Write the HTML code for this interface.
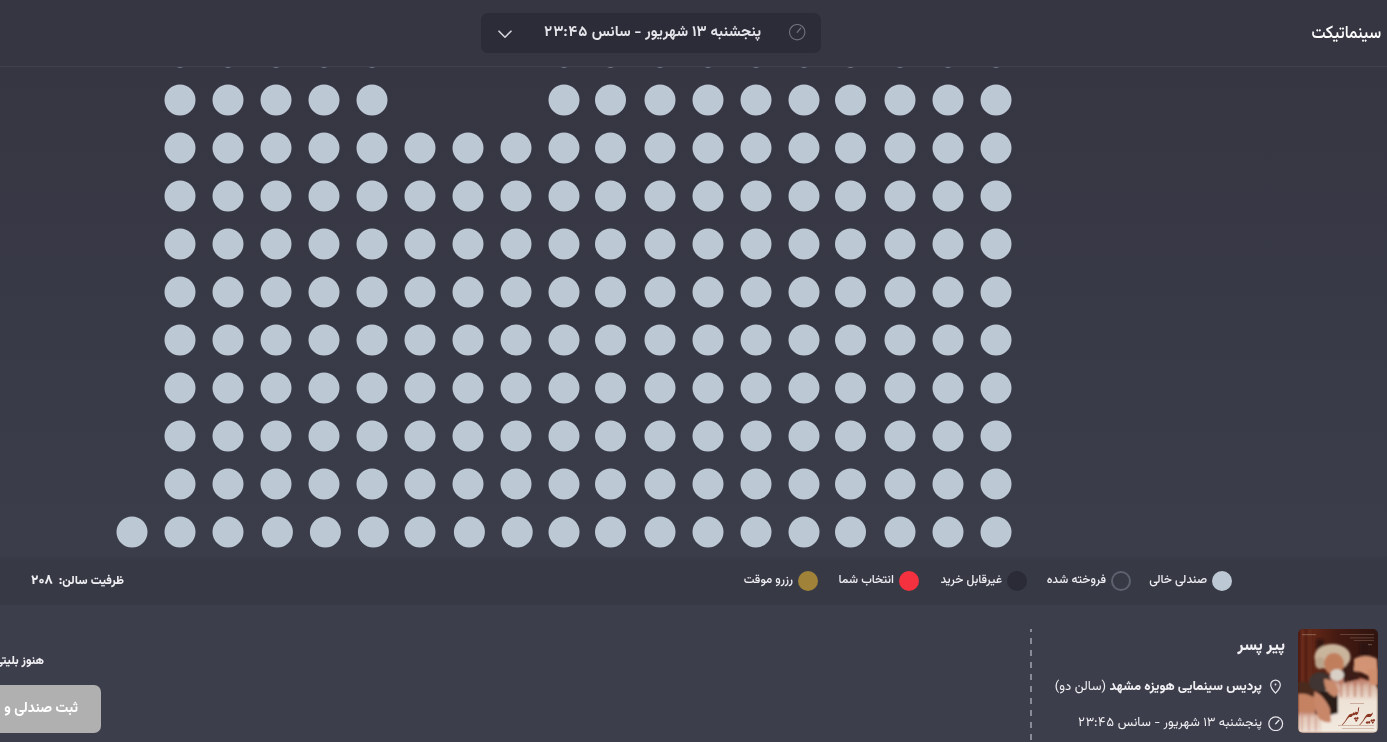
<!DOCTYPE html>
<html lang="fa" dir="rtl">
<head>
<meta charset="utf-8">
<title>سینماتیکت - انتخاب صندلی</title>
<style>
*{box-sizing:border-box;margin:0;padding:0}
html,body{width:1387px;height:742px;overflow:hidden;background:#353642}
body{position:relative;font-family:"Vazirmatn","DejaVu Sans","Liberation Sans",sans-serif;color:#f0f0f4}
.header{position:absolute;left:0;top:0;width:1387px;height:67px;background:#353642;border-bottom:1px solid #40414e;z-index:3}
.logo{position:absolute;right:6px;top:18.5px;font-size:18px;font-weight:500;transform:scaleX(0.87);transform-origin:right center;color:#fff;line-height:30px;letter-spacing:0}
.dd{position:absolute;left:481px;top:13.0px;width:340px;height:40px;background:#2c2c38;border-radius:7px}
.dd .t{position:absolute;right:60px;top:9px;font-size:14.9px;font-weight:700;line-height:22px;color:#e4e4ea;white-space:nowrap}
.dd .clk{position:absolute;right:15px;top:11px;width:18px;height:18px}
.dd .chev{position:absolute;left:17px;top:16px;width:14px;height:9px;transform:translateY(0.7px)}
.seats{position:absolute;left:0;top:67px;width:1387px;height:489px;overflow:hidden;background:linear-gradient(#353642,#3b3d4a)}
.seats i{position:absolute;left:0;top:0;width:31px;height:31px;border-radius:50%;background:#bdc8d5;display:block}
.legend{position:absolute;left:0;top:556px;width:1387px;height:49px;background:linear-gradient(#3a3c49 0,#373945 6px)}
.lg{position:absolute;top:0;height:49px;display:flex;align-items:center;font-size:12px;font-weight:500;line-height:20px;color:#eeeef3;white-space:nowrap}
.lg b{display:block;width:20px;height:20px;border-radius:50%;margin-left:5px}
.cap{position:absolute;left:31px;top:15px;font-size:12px;font-weight:800;line-height:20px;white-space:nowrap;direction:rtl}
.bottom{position:absolute;left:0;top:605px;width:1387px;height:137px;background:#3d3e4b}
.poster{position:absolute;left:1298px;top:24.0px;width:80px;height:104px;border-radius:5px;overflow:hidden}
.title{position:absolute;right:102px;top:29px;font-size:16px;font-weight:800;line-height:26px;white-space:nowrap}
.loc{position:absolute;right:125px;top:71px;font-size:13px;line-height:22px;white-space:nowrap}
.loc b{font-weight:800}
.time{position:absolute;right:125px;top:107px;font-size:12.8px;line-height:22px;white-space:nowrap}
.ico{position:absolute;width:16px;height:16px}
.dash{position:absolute;left:1030px;top:24.0px;width:2px;height:113px;background:repeating-linear-gradient(to bottom,#8b8b97 0,#8b8b97 3px,transparent 3px,transparent 9px,#8b8b97 9px,#8b8b97 12px)}
.msg{position:absolute;right:1343px;top:45px;font-size:12px;font-weight:800;line-height:22px;white-space:nowrap}
.btn{position:absolute;right:1286px;top:80px;width:240px;height:48px;background:#b0b0b0;border-radius:7px;color:#fff;font-size:14px;font-weight:800;line-height:48px;text-align:right;padding-right:23px;white-space:nowrap}
.dg{font-feature-settings:'tnum'}
.dg2{font-feature-settings:'tnum'}
.lg span{position:relative;top:-1px}
</style>
</head>
<body>
<div class="header">
  <div class="logo">سینماتیکت</div>
  <div class="dd">
    <svg class="clk" viewBox="0 0 18 18"><circle cx="9.2" cy="8.2" r="7.7" fill="none" stroke="#6e6e7b" stroke-width="1.2"/><path d="M9.2 8.2 L12.6 4.3" stroke="#6e6e7b" stroke-width="1.3" stroke-linecap="round"/></svg>
    <div class="t">پنجشنبه ۱۳ شهریور - سانس <span class="dg">۲۳:۴۵</span></div>
    <svg class="chev" viewBox="0 0 14 9"><path d="M1 1.5 L7 7.5 L13 1.5" fill="none" stroke="#d4d4dc" stroke-width="1.6" stroke-linecap="round" stroke-linejoin="round"/></svg>
  </div>
</div>
<div class="seats">
<i style="transform:translate(164.5px,-30.6px)"></i>
<i style="transform:translate(212.5px,-30.6px)"></i>
<i style="transform:translate(260.5px,-30.6px)"></i>
<i style="transform:translate(308.5px,-30.6px)"></i>
<i style="transform:translate(356.5px,-30.6px)"></i>
<i style="transform:translate(548.5px,-30.6px)"></i>
<i style="transform:translate(595px,-30.6px)"></i>
<i style="transform:translate(644.5px,-30.6px)"></i>
<i style="transform:translate(692.5px,-30.6px)"></i>
<i style="transform:translate(740.5px,-30.6px)"></i>
<i style="transform:translate(788.5px,-30.6px)"></i>
<i style="transform:translate(835px,-30.6px)"></i>
<i style="transform:translate(884.5px,-30.6px)"></i>
<i style="transform:translate(932.5px,-30.6px)"></i>
<i style="transform:translate(980.5px,-30.6px)"></i>
<i style="transform:translate(164.5px,17.5px)"></i>
<i style="transform:translate(212.5px,17.5px)"></i>
<i style="transform:translate(260.5px,17.5px)"></i>
<i style="transform:translate(308.5px,17.5px)"></i>
<i style="transform:translate(356.5px,17.5px)"></i>
<i style="transform:translate(548.5px,17.5px)"></i>
<i style="transform:translate(595px,17.5px)"></i>
<i style="transform:translate(644.5px,17.5px)"></i>
<i style="transform:translate(692.5px,17.5px)"></i>
<i style="transform:translate(740.5px,17.5px)"></i>
<i style="transform:translate(788.5px,17.5px)"></i>
<i style="transform:translate(835px,17.5px)"></i>
<i style="transform:translate(884.5px,17.5px)"></i>
<i style="transform:translate(932.5px,17.5px)"></i>
<i style="transform:translate(980.5px,17.5px)"></i>
<i style="transform:translate(164.5px,65.5px)"></i>
<i style="transform:translate(212.5px,65.5px)"></i>
<i style="transform:translate(260.5px,65.5px)"></i>
<i style="transform:translate(308.5px,65.5px)"></i>
<i style="transform:translate(356.5px,65.5px)"></i>
<i style="transform:translate(404.5px,65.5px)"></i>
<i style="transform:translate(452.5px,65.5px)"></i>
<i style="transform:translate(500.5px,65.5px)"></i>
<i style="transform:translate(548.5px,65.5px)"></i>
<i style="transform:translate(595px,65.5px)"></i>
<i style="transform:translate(644.5px,65.5px)"></i>
<i style="transform:translate(692.5px,65.5px)"></i>
<i style="transform:translate(740.5px,65.5px)"></i>
<i style="transform:translate(788.5px,65.5px)"></i>
<i style="transform:translate(835px,65.5px)"></i>
<i style="transform:translate(884.5px,65.5px)"></i>
<i style="transform:translate(932.5px,65.5px)"></i>
<i style="transform:translate(980.5px,65.5px)"></i>
<i style="transform:translate(164.5px,113.5px)"></i>
<i style="transform:translate(212.5px,113.5px)"></i>
<i style="transform:translate(260.5px,113.5px)"></i>
<i style="transform:translate(308.5px,113.5px)"></i>
<i style="transform:translate(356.5px,113.5px)"></i>
<i style="transform:translate(404.5px,113.5px)"></i>
<i style="transform:translate(452.5px,113.5px)"></i>
<i style="transform:translate(500.5px,113.5px)"></i>
<i style="transform:translate(548.5px,113.5px)"></i>
<i style="transform:translate(595px,113.5px)"></i>
<i style="transform:translate(644.5px,113.5px)"></i>
<i style="transform:translate(692.5px,113.5px)"></i>
<i style="transform:translate(740.5px,113.5px)"></i>
<i style="transform:translate(788.5px,113.5px)"></i>
<i style="transform:translate(835px,113.5px)"></i>
<i style="transform:translate(884.5px,113.5px)"></i>
<i style="transform:translate(932.5px,113.5px)"></i>
<i style="transform:translate(980.5px,113.5px)"></i>
<i style="transform:translate(164.5px,161.5px)"></i>
<i style="transform:translate(212.5px,161.5px)"></i>
<i style="transform:translate(260.5px,161.5px)"></i>
<i style="transform:translate(308.5px,161.5px)"></i>
<i style="transform:translate(356.5px,161.5px)"></i>
<i style="transform:translate(404.5px,161.5px)"></i>
<i style="transform:translate(452.5px,161.5px)"></i>
<i style="transform:translate(500.5px,161.5px)"></i>
<i style="transform:translate(548.5px,161.5px)"></i>
<i style="transform:translate(595px,161.5px)"></i>
<i style="transform:translate(644.5px,161.5px)"></i>
<i style="transform:translate(692.5px,161.5px)"></i>
<i style="transform:translate(740.5px,161.5px)"></i>
<i style="transform:translate(788.5px,161.5px)"></i>
<i style="transform:translate(835px,161.5px)"></i>
<i style="transform:translate(884.5px,161.5px)"></i>
<i style="transform:translate(932.5px,161.5px)"></i>
<i style="transform:translate(980.5px,161.5px)"></i>
<i style="transform:translate(164.5px,209.5px)"></i>
<i style="transform:translate(212.5px,209.5px)"></i>
<i style="transform:translate(260.5px,209.5px)"></i>
<i style="transform:translate(308.5px,209.5px)"></i>
<i style="transform:translate(356.5px,209.5px)"></i>
<i style="transform:translate(404.5px,209.5px)"></i>
<i style="transform:translate(452.5px,209.5px)"></i>
<i style="transform:translate(500.5px,209.5px)"></i>
<i style="transform:translate(548.5px,209.5px)"></i>
<i style="transform:translate(595px,209.5px)"></i>
<i style="transform:translate(644.5px,209.5px)"></i>
<i style="transform:translate(692.5px,209.5px)"></i>
<i style="transform:translate(740.5px,209.5px)"></i>
<i style="transform:translate(788.5px,209.5px)"></i>
<i style="transform:translate(835px,209.5px)"></i>
<i style="transform:translate(884.5px,209.5px)"></i>
<i style="transform:translate(932.5px,209.5px)"></i>
<i style="transform:translate(980.5px,209.5px)"></i>
<i style="transform:translate(164.5px,257.5px)"></i>
<i style="transform:translate(212.5px,257.5px)"></i>
<i style="transform:translate(260.5px,257.5px)"></i>
<i style="transform:translate(308.5px,257.5px)"></i>
<i style="transform:translate(356.5px,257.5px)"></i>
<i style="transform:translate(404.5px,257.5px)"></i>
<i style="transform:translate(452.5px,257.5px)"></i>
<i style="transform:translate(500.5px,257.5px)"></i>
<i style="transform:translate(548.5px,257.5px)"></i>
<i style="transform:translate(595px,257.5px)"></i>
<i style="transform:translate(644.5px,257.5px)"></i>
<i style="transform:translate(692.5px,257.5px)"></i>
<i style="transform:translate(740.5px,257.5px)"></i>
<i style="transform:translate(788.5px,257.5px)"></i>
<i style="transform:translate(835px,257.5px)"></i>
<i style="transform:translate(884.5px,257.5px)"></i>
<i style="transform:translate(932.5px,257.5px)"></i>
<i style="transform:translate(980.5px,257.5px)"></i>
<i style="transform:translate(164.5px,305.5px)"></i>
<i style="transform:translate(212.5px,305.5px)"></i>
<i style="transform:translate(260.5px,305.5px)"></i>
<i style="transform:translate(308.5px,305.5px)"></i>
<i style="transform:translate(356.5px,305.5px)"></i>
<i style="transform:translate(404.5px,305.5px)"></i>
<i style="transform:translate(452.5px,305.5px)"></i>
<i style="transform:translate(500.5px,305.5px)"></i>
<i style="transform:translate(548.5px,305.5px)"></i>
<i style="transform:translate(595px,305.5px)"></i>
<i style="transform:translate(644.5px,305.5px)"></i>
<i style="transform:translate(692.5px,305.5px)"></i>
<i style="transform:translate(740.5px,305.5px)"></i>
<i style="transform:translate(788.5px,305.5px)"></i>
<i style="transform:translate(835px,305.5px)"></i>
<i style="transform:translate(884.5px,305.5px)"></i>
<i style="transform:translate(932.5px,305.5px)"></i>
<i style="transform:translate(980.5px,305.5px)"></i>
<i style="transform:translate(164.5px,353.5px)"></i>
<i style="transform:translate(212.5px,353.5px)"></i>
<i style="transform:translate(260.5px,353.5px)"></i>
<i style="transform:translate(308.5px,353.5px)"></i>
<i style="transform:translate(356.5px,353.5px)"></i>
<i style="transform:translate(404.5px,353.5px)"></i>
<i style="transform:translate(452.5px,353.5px)"></i>
<i style="transform:translate(500.5px,353.5px)"></i>
<i style="transform:translate(548.5px,353.5px)"></i>
<i style="transform:translate(595px,353.5px)"></i>
<i style="transform:translate(644.5px,353.5px)"></i>
<i style="transform:translate(692.5px,353.5px)"></i>
<i style="transform:translate(740.5px,353.5px)"></i>
<i style="transform:translate(788.5px,353.5px)"></i>
<i style="transform:translate(835px,353.5px)"></i>
<i style="transform:translate(884.5px,353.5px)"></i>
<i style="transform:translate(932.5px,353.5px)"></i>
<i style="transform:translate(980.5px,353.5px)"></i>
<i style="transform:translate(164.5px,401.5px)"></i>
<i style="transform:translate(212.5px,401.5px)"></i>
<i style="transform:translate(260.5px,401.5px)"></i>
<i style="transform:translate(308.5px,401.5px)"></i>
<i style="transform:translate(356.5px,401.5px)"></i>
<i style="transform:translate(404.5px,401.5px)"></i>
<i style="transform:translate(452.5px,401.5px)"></i>
<i style="transform:translate(500.5px,401.5px)"></i>
<i style="transform:translate(548.5px,401.5px)"></i>
<i style="transform:translate(595px,401.5px)"></i>
<i style="transform:translate(644.5px,401.5px)"></i>
<i style="transform:translate(692.5px,401.5px)"></i>
<i style="transform:translate(740.5px,401.5px)"></i>
<i style="transform:translate(788.5px,401.5px)"></i>
<i style="transform:translate(835px,401.5px)"></i>
<i style="transform:translate(884.5px,401.5px)"></i>
<i style="transform:translate(932.5px,401.5px)"></i>
<i style="transform:translate(980.5px,401.5px)"></i>
<i style="transform:translate(116.5px,449.5px)"></i>
<i style="transform:translate(164.5px,449.5px)"></i>
<i style="transform:translate(212.5px,449.5px)"></i>
<i style="transform:translate(261.9px,449.5px)"></i>
<i style="transform:translate(309.9px,449.5px)"></i>
<i style="transform:translate(357.9px,449.5px)"></i>
<i style="transform:translate(404.5px,449.5px)"></i>
<i style="transform:translate(453.9px,449.5px)"></i>
<i style="transform:translate(501.7px,449.5px)"></i>
<i style="transform:translate(548.5px,449.5px)"></i>
<i style="transform:translate(595px,449.5px)"></i>
<i style="transform:translate(644.5px,449.5px)"></i>
<i style="transform:translate(692.5px,449.5px)"></i>
<i style="transform:translate(740.5px,449.5px)"></i>
<i style="transform:translate(788.5px,449.5px)"></i>
<i style="transform:translate(835px,449.5px)"></i>
<i style="transform:translate(884.5px,449.5px)"></i>
<i style="transform:translate(932.5px,449.5px)"></i>
<i style="transform:translate(980.5px,449.5px)"></i>
</div>
<div class="legend">
  <div class="lg" style="right:155px"><b style="background:#bdc8d5"></b><span>صندلی خالی</span></div>
  <div class="lg" style="right:256px"><b style="border:2px solid #5d626e"></b><span>فروخته شده</span></div>
  <div class="lg" style="right:360px"><b style="background:#2a2b37"></b><span>غیرقابل خرید</span></div>
  <div class="lg" style="right:468px"><b style="background:#f4323f"></b><span>انتخاب شما</span></div>
  <div class="lg" style="right:569px"><b style="background:#a08339"></b><span>رزرو موقت</span></div>
  <div class="cap">ظرفیت سالن:&nbsp; <span style="font-size:13.5px">۲۰۸</span></div>
</div>
<div class="bottom">
  <div class="poster"><svg width="80" height="104" viewBox="0 0 80 104">
<defs>
<filter id="pb1" x="-10%" y="-10%" width="120%" height="120%"><feGaussianBlur stdDeviation="1.2"/></filter>
<filter id="pb2" x="-10%" y="-10%" width="120%" height="120%"><feGaussianBlur stdDeviation="0.9"/></filter>
<linearGradient id="pbg" x1="0" y1="0" x2="1" y2="0"><stop offset="0" stop-color="#4e1c12"/><stop offset="0.2" stop-color="#602616"/><stop offset="0.5" stop-color="#441a12"/><stop offset="1" stop-color="#30140e"/></linearGradient>
<linearGradient id="pshirt" x1="0" y1="0" x2="0" y2="1"><stop offset="0" stop-color="#a54832"/><stop offset="0.2" stop-color="#d9b8a6"/><stop offset="0.45" stop-color="#eee2d6"/><stop offset="1" stop-color="#f3eae0"/></linearGradient>
<linearGradient id="plow" x1="0" y1="0" x2="0" y2="1"><stop offset="0" stop-color="#b0604a"/><stop offset="0.35" stop-color="#e2c6b6"/><stop offset="1" stop-color="#efe2d6"/></linearGradient>
</defs>
<rect width="80" height="104" fill="url(#pbg)"/>
<g filter="url(#pb1)">
<rect x="3" y="0" width="3" height="55" fill="#7a3222" opacity="0.7"/>
<rect x="10" y="0" width="3" height="55" fill="#70301e" opacity="0.6"/>
<rect x="18" y="10" width="8" height="18" fill="#2a1410" opacity="0.7"/>
<rect x="62" y="14" width="10" height="16" fill="#24100c" opacity="0.6"/>
<rect x="0" y="80" width="28" height="24" fill="url(#plow)"/>
<path d="M28 48 C40 44 60 46 72 52 C78 55 80 58 80 62 L80 104 L24 104 C22 86 22 62 28 48 Z" fill="url(#pshirt)"/>
<path d="M44 36 L58 38 L62 50 L46 54 Z" fill="#3a1e16"/>
<path d="M17 64 C24 60 34 62 40 66 L40 84 C32 87 22 87 17 85 Z" fill="#2a1a18"/>
<path d="M14 62 C20 62 28 70 32 80 L33 93 C28 94 22 92 20 88 C17 80 14 72 14 62 Z" fill="#c9876a"/>
<path d="M0 53 C6 52 14 54 17 58 L16 68 C10 66 4 66 0 67 Z" fill="#4a2a1e"/>
<path d="M0 65 C6 64 14 66 17 70 L17 83 C11 84 4 84 0 82 Z" fill="#c58262"/>
<ellipse cx="34.5" cy="28" rx="18" ry="13" fill="#c9b49c"/>
<ellipse cx="22" cy="34" rx="5" ry="6" fill="#bba48c"/>
<ellipse cx="36" cy="35" rx="10" ry="11" fill="#c17e5c"/>
<ellipse cx="39" cy="46" rx="7" ry="6" fill="#d8d0c6"/>
<path d="M56 30 C62 26 74 26 79 30 L80 46 L72 48 C66 44 60 42 56 42 Z" fill="#d39474"/>
<path d="M69 40 L80 40 L80 56 L72 56 Z" fill="#cf8e6e"/>
<ellipse cx="22" cy="53" rx="11" ry="10" fill="#3f3430"/>
<path d="M26 50 C34 50 41 56 41 64 L37 68 C31 66 26 60 26 50 Z" fill="#c98a6c"/>
</g>
<g filter="url(#pb2)" fill="#a03c28">
<rect x="42" y="52" width="1.6" height="16" opacity="0.45"/>
<rect x="49" y="50" width="1.4" height="18" opacity="0.4"/>
<rect x="56" y="52" width="1.8" height="16" opacity="0.45"/>
<rect x="63" y="54" width="1.5" height="14" opacity="0.4"/>
<rect x="71" y="56" width="1.5" height="12" opacity="0.4"/>
<rect x="3" y="86" width="1.5" height="16" opacity="0.3"/>
<rect x="10" y="86" width="1.5" height="16" opacity="0.3"/>
<rect x="17" y="88" width="1.5" height="14" opacity="0.3"/>
</g>
<text x="61" y="90" font-family="'Noto Nastaliq Urdu','Amiri',serif" font-size="14" font-weight="700" fill="#8a3422" text-anchor="middle">پیر پسر</text>
<g fill="#dcc6b0" opacity="0.3">
<rect x="42" y="5" width="34" height="0.8"/>
<rect x="52" y="8.5" width="24" height="0.8"/>
<rect x="56" y="11" width="20" height="0.7"/>
<rect x="4" y="5" width="14" height="1.2"/>
<rect x="70" y="15" width="4" height="1.2"/>
</g>
<g fill="#8a4a38" opacity="0.35">
<rect x="40" y="96" width="36" height="0.9"/>
<rect x="44" y="99" width="32" height="0.8"/>
<rect x="52" y="74" width="14" height="1"/>
</g>
</svg></div>
  <div class="title">پیر پسر</div>
  <svg class="ico" style="left:1268px;top:73.0px" viewBox="0 0 16 16"><path d="M7.5 15.2 C4.6 12 2.7 9.5 2.7 6.9 A4.8 4.8 0 0 1 12.3 6.9 C12.3 9.5 10.4 12 7.5 15.2Z" fill="none" stroke="#e6e6ec" stroke-width="1.2" stroke-linejoin="round"/><circle cx="7.5" cy="6.5" r="0.9" fill="#e6e6ec"/></svg>
  <div class="loc"><b>پردیس سینمایی هویزه مشهد</b> (سالن دو)</div>
  <svg class="ico" style="left:1268px;top:110.0px" viewBox="0 0 16 16"><circle cx="7.7" cy="8.7" r="6.9" fill="none" stroke="#e6e6ec" stroke-width="1.25"/><path d="M7.7 8.7 L10.9 5.3" stroke="#e6e6ec" stroke-width="1.3" stroke-linecap="round"/></svg>
  <div class="time">پنجشنبه ۱۳ شهریور - سانس <span class="dg2">۲۳:۴۵</span></div>
  <div class="dash"></div>
  <div class="msg">هنوز بلیتی انتخاب نکرده‌اید</div>
  <div class="btn">ثبت صندلی و ادامه خرید</div>
</div>
</body>
</html>
